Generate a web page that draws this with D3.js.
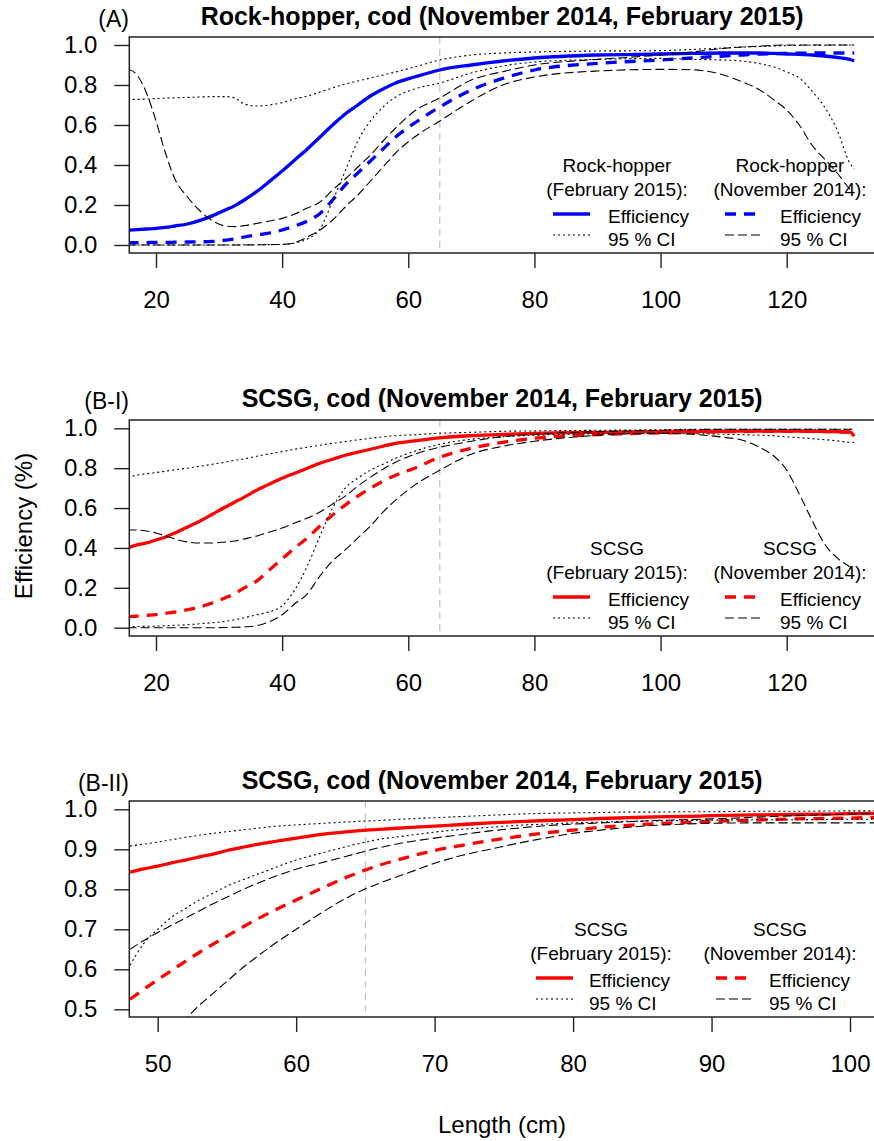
<!DOCTYPE html>
<html><head><meta charset="utf-8">
<script src="https://cdn.jsdelivr.net/npm/d3@7"></script>
<style>body{margin:0;background:#fff} svg text{font-family:"Liberation Sans",Arial,sans-serif;fill:#000}</style>
</head><body><svg id="chart" width="874" height="1141"></svg>
<script>
// ---------- data ----------
const titles = ["Rock-hopper, cod (November 2014, February 2015)",
                "SCSG, cod (November 2014, February 2015)",
                "SCSG, cod (November 2014, February 2015)"];
const tags = ["(A)", "(B-I)", "(B-II)"];
const gearNames = ["Rock-hopper", "SCSG", "SCSG"];
const legendHeads = ["(February 2015):", "(November 2014):"];
const legendItems = ["Efficiency", "95 % CI"];
const xTicksAB = [20, 40, 60, 80, 100, 120];
const xTicksC = [50, 60, 70, 80, 90, 100];
const yTicksAB = [0, 0.2, 0.4, 0.6, 0.8, 1.0];
const yTicksC = [0.5, 0.6, 0.7, 0.8, 0.9, 1.0];
const refLength = 65;

const lenAB = [15.5,17,18.5,20,21.5,23,25,27,29,31,32.5,34,36,38,40,42,44,46,48,50,52,54,56,58,61,65,70,75,80,90,100,105,110,113,116,118,120,122,124,126,128,130,130.7];

// Panel A (Rock-hopper)
const effFebA = [.074,.077,.080,.083,.088,.095,.105,.123,.147,.175,.197,.225,.268,.318,.37,.425,.48,.54,.60,.655,.70,.745,.78,.81,.84,.875,.90,.92,.935,.95,.955,.958,.96,.96,.96,.958,.955,.953,.95,.945,.938,.928,.92];
const ciFebHiA = [.728,.728,.73,.732,.734,.736,.738,.74,.742,.742,.735,.705,.695,.70,.712,.73,.745,.765,.785,.805,.82,.835,.85,.865,.89,.925,.95,.96,.965,.97,.972,.978,.985,.99,.993,.995,.997,.998,.999,.999,1,1,1];
const ciFebLoA = [0,0,0,0,0,0,0,0,0,0,0,.001,.001,.002,.003,.01,.03,.08,.22,.37,.52,.62,.69,.74,.78,.81,.86,.895,.915,.928,.933,.928,.925,.92,.905,.89,.865,.835,.77,.69,.575,.41,.38];
const effNovA = [.012,.012,.012,.013,.013,.014,.015,.016,.018,.024,.03,.04,.05,.06,.075,.095,.12,.158,.225,.30,.36,.42,.48,.54,.61,.69,.775,.833,.875,.908,.925,.935,.945,.95,.955,.957,.958,.959,.96,.96,.96,.96,.96];
const ciNovHiA = [.88,.85,.76,.62,.46,.33,.24,.17,.12,.095,.092,.097,.108,.12,.133,.155,.185,.215,.275,.33,.39,.45,.52,.585,.67,.735,.825,.867,.90,.928,.95,.965,.983,.99,.995,.998,1,1,1,1,1,1,1];
const ciNovLoA = [0,0,0,0,0,0,0,0,0,0,0,0,.001,.002,.003,.012,.04,.075,.125,.19,.25,.32,.39,.46,.54,.62,.72,.80,.84,.87,.878,.876,.85,.815,.77,.725,.675,.60,.50,.43,.36,.28,.26];

// Panel B-I (SCSG)
const effFebB = [.40,.415,.425,.44,.455,.475,.505,.535,.57,.605,.63,.655,.69,.72,.75,.775,.80,.825,.845,.865,.88,.895,.91,.925,.937,.952,.963,.97,.975,.98,.983,.985,.985,.986,.986,.986,.986,.986,.985,.984,.983,.982,.96];
const ciFebHiB = [.755,.765,.772,.778,.785,.792,.80,.81,.82,.83,.84,.847,.86,.872,.883,.895,.905,.915,.925,.933,.942,.95,.957,.963,.968,.975,.98,.985,.987,.99,.993,.995,.995,.995,.995,.995,.995,.995,.995,.995,.995,.995,.995];
const ciFebLoB = [.005,.006,.007,.008,.01,.012,.015,.02,.025,.032,.04,.05,.065,.08,.11,.19,.31,.46,.6,.70,.75,.79,.82,.85,.885,.92,.945,.958,.965,.973,.975,.973,.97,.968,.965,.962,.957,.953,.948,.943,.937,.93,.93];
const effNovB = [.055,.058,.062,.066,.072,.078,.09,.105,.125,.15,.172,.20,.235,.29,.345,.40,.45,.51,.565,.615,.66,.70,.735,.765,.80,.855,.90,.93,.95,.968,.977,.98,.983,.984,.985,.985,.985,.985,.985,.984,.983,.98,.96];
const ciNovHiB = [.49,.49,.485,.475,.46,.445,.43,.425,.425,.43,.435,.445,.46,.48,.50,.525,.55,.58,.62,.66,.71,.755,.795,.83,.87,.905,.935,.958,.97,.983,.99,.993,.995,.995,.995,.995,.995,.995,.995,.995,.995,.995,.995];
const ciNovLoB = [0,0,0,0,0,0,0,0,0,.001,.002,.004,.01,.03,.065,.12,.17,.26,.335,.39,.45,.51,.58,.64,.715,.79,.87,.91,.935,.965,.975,.97,.955,.94,.90,.86,.79,.67,.54,.42,.35,.305,.29];

// Panel B-II (SCSG, zoom)
const lenC = [48,49,50,51,52,53,54,55,56,57,58,60,62,64,66,68,70,72,74,76,78,80,82,84,86,88,90,93,96,100,102];
const effFebC = [.843,.851,.858,.866,.873,.881,.888,.897,.904,.911,.917,.928,.938,.945,.95,.954,.958,.962,.966,.969,.972,.974,.977,.979,.981,.982,.984,.986,.987,.989,.99];
const ciFebHiC = [.908,.913,.918,.924,.93,.935,.94,.944,.948,.952,.956,.961,.965,.969,.972,.976,.979,.982,.985,.988,.99,.991,.992,.993,.993,.994,.994,.995,.995,.996,.996];
const ciFebLoC = [.61,.665,.70,.73,.752,.773,.79,.808,.822,.835,.848,.873,.892,.91,.925,.934,.943,.95,.955,.96,.963,.966,.968,.97,.971,.972,.973,.974,.974,.975,.975];
const effNovC = [.525,.55,.574,.597,.62,.642,.663,.683,.703,.722,.74,.773,.805,.835,.86,.88,.897,.91,.922,.932,.941,.948,.955,.96,.964,.967,.97,.973,.976,.978,.98];
const ciNovHiC = [.65,.672,.692,.71,.728,.746,.764,.78,.797,.812,.826,.85,.868,.886,.904,.918,.928,.937,.946,.953,.959,.963,.966,.969,.972,.974,.976,.98,.984,.988,.99];
const ciNovLoC = [.32,.36,.40,.44,.475,.51,.54,.57,.60,.627,.653,.70,.745,.785,.815,.84,.865,.885,.90,.915,.928,.94,.948,.955,.96,.963,.965,.966,.966,.966,.966];

// ---------- layout ----------
const svg = d3.select("#chart");
const boxL = 129.3, boxR = 875;
const FONT_AX = 24, FONT_LEG = 19;

const panels = [
  {i:0, top:37, bottom:253, xDom:[20,120], xRng:[156,786.7], xTicks:xTicksAB, yDom:[0,1], yRng:[245,45], yTicks:yTicksAB,
   len:lenAB, colour:"#0000ff", s:[effFebA,ciFebHiA,ciFebLoA,effNovA,ciNovHiA,ciNovLoA], leg:{c1:617,c2:790,l1:553,t1:608,l2:725,t2:780}},
  {i:1, top:420, bottom:636, xDom:[20,120], xRng:[156,786.7], xTicks:xTicksAB, yDom:[0,1], yRng:[627.7,428.3], yTicks:yTicksAB,
   len:lenAB, colour:"#ff0000", s:[effFebB,ciFebHiB,ciFebLoB,effNovB,ciNovHiB,ciNovLoB], leg:{c1:617,c2:790,l1:553,t1:608,l2:725,t2:780}},
  {i:2, top:801, bottom:1017, xDom:[50,100], xRng:[157.7,850], xTicks:xTicksC, yDom:[0.5,1], yRng:[1009.3,809.3], yTicks:yTicksC,
   len:lenC, colour:"#ff0000", s:[effFebC,ciFebHiC,ciFebLoC,effNovC,ciNovHiC,ciNovLoC], leg:{c1:601,c2:780,l1:536,t1:589,l2:716,t2:769}}
];
const titleBase = [25, 407, 789];
const tagBase = [27, 409, 791];

const styles = [
  {dash:null, w:3.3, col:"c"},      // efficiency Feb (solid)
  {dash:"2,3", w:1.1, col:"#000"},  // CI Feb upper (dotted)
  {dash:"2,3", w:1.1, col:"#000"},  // CI Feb lower
  {dash:"11,8", w:3.3, col:"c"},    // efficiency Nov (dashed)
  {dash:"9,4", w:1.1, col:"#000"},  // CI Nov upper (long dash)
  {dash:"9,4", w:1.1, col:"#000"}   // CI Nov lower
];

panels.forEach(p => {
  const x = d3.scaleLinear().domain(p.xDom).range(p.xRng);
  const y = d3.scaleLinear().domain(p.yDom).range(p.yRng);
  const g = svg.append("g");
  const clipId = "clip" + p.i;
  svg.append("clipPath").attr("id", clipId).append("rect")
     .attr("x", boxL).attr("y", p.top).attr("width", boxR - boxL).attr("height", p.bottom - p.top);

  const plot = g.append("g").attr("clip-path", `url(#${clipId})`);
  plot.append("line").attr("x1", x(refLength)).attr("x2", x(refLength))
      .attr("y1", p.top).attr("y2", p.bottom)
      .attr("stroke", "#c4c4c4").attr("stroke-width", 1.2).attr("stroke-dasharray", "7,5");

  const order = [0, 3, 1, 2, 4, 5];
  order.forEach(k => {
    const st = styles[k];
    const line = d3.line().x((d, i) => x(p.len[i])).y(d => y(d)).curve(d3.curveMonotoneX);
    plot.append("path").datum(p.s[k]).attr("d", line)
      .attr("fill", "none")
      .attr("stroke", st.col === "c" ? p.colour : st.col)
      .attr("stroke-width", st.w)
      .attr("stroke-dasharray", st.dash)
      .attr("stroke-linejoin", "round");
  });

  g.append("rect").attr("x", boxL).attr("y", p.top).attr("width", boxR - boxL).attr("height", p.bottom - p.top)
    .attr("fill", "none").attr("stroke", "#222").attr("stroke-width", 1.5);

  const xa = g.append("g").attr("transform", `translate(0,${p.bottom})`)
    .call(d3.axisBottom(x).tickValues(p.xTicks).tickSize(15).tickPadding(23).tickFormat(d3.format("d")));
  const ya = g.append("g").attr("transform", `translate(${boxL},0)`)
    .call(d3.axisLeft(y).tickValues(p.yTicks).tickSize(15).tickPadding(17).tickFormat(d3.format(".1f")));
  [xa, ya].forEach(a => {
    a.select(".domain").remove();
    a.selectAll(".tick line").attr("stroke", "#222").attr("stroke-width", 1.4);
    a.selectAll(".tick text").attr("font-size", FONT_AX).attr("font-family", "Liberation Sans, Arial, sans-serif").attr("fill", "#000");
  });

  g.append("text").attr("x", (boxL + boxR) / 2).attr("y", titleBase[p.i]).attr("text-anchor", "middle")
    .attr("font-size", 25).attr("font-weight", "bold").text(titles[p.i]);
  g.append("text").attr("x", 129).attr("y", tagBase[p.i]).attr("text-anchor", "end")
    .attr("font-size", 23).text(tags[p.i]);

  // legend
  const bb = p.bottom, L = p.leg;
  [[L.c1, legendHeads[0]], [L.c2, legendHeads[1]]].forEach(([cx, h]) => {
    g.append("text").attr("text-anchor", "middle").attr("font-size", FONT_LEG)
      .attr("x", cx).attr("y", bb - 81).text(gearNames[p.i]);
    g.append("text").attr("text-anchor", "middle").attr("font-size", FONT_LEG)
      .attr("x", cx).attr("y", bb - 57).text(h);
  });
  [[L.l1, L.t1, 0, 1], [L.l2, L.t2, 3, 4]].forEach(([lx, tx, kEff, kCi]) => {
    [[kEff, bb - 39], [kCi, bb - 18]].forEach(([k, sy]) => {
      const st = styles[k];
      g.append("line").attr("x1", lx).attr("x2", lx + 37).attr("y1", sy).attr("y2", sy)
        .attr("stroke", st.col === "c" ? p.colour : st.col).attr("stroke-width", st.w).attr("stroke-dasharray", st.dash);
    });
    g.append("text").attr("font-size", FONT_LEG).attr("x", tx).attr("y", bb - 30).text(legendItems[0]);
    g.append("text").attr("font-size", FONT_LEG).attr("x", tx).attr("y", bb - 7.5).text(legendItems[1]);
  });
});

svg.append("text").attr("transform", "translate(32,526) rotate(-90)").attr("text-anchor", "middle")
  .attr("font-size", FONT_AX).text("Efficiency (%)");
svg.append("text").attr("x", 502).attr("y", 1133).attr("text-anchor", "middle")
  .attr("font-size", FONT_AX).text("Length (cm)");
</script>
</body></html>
